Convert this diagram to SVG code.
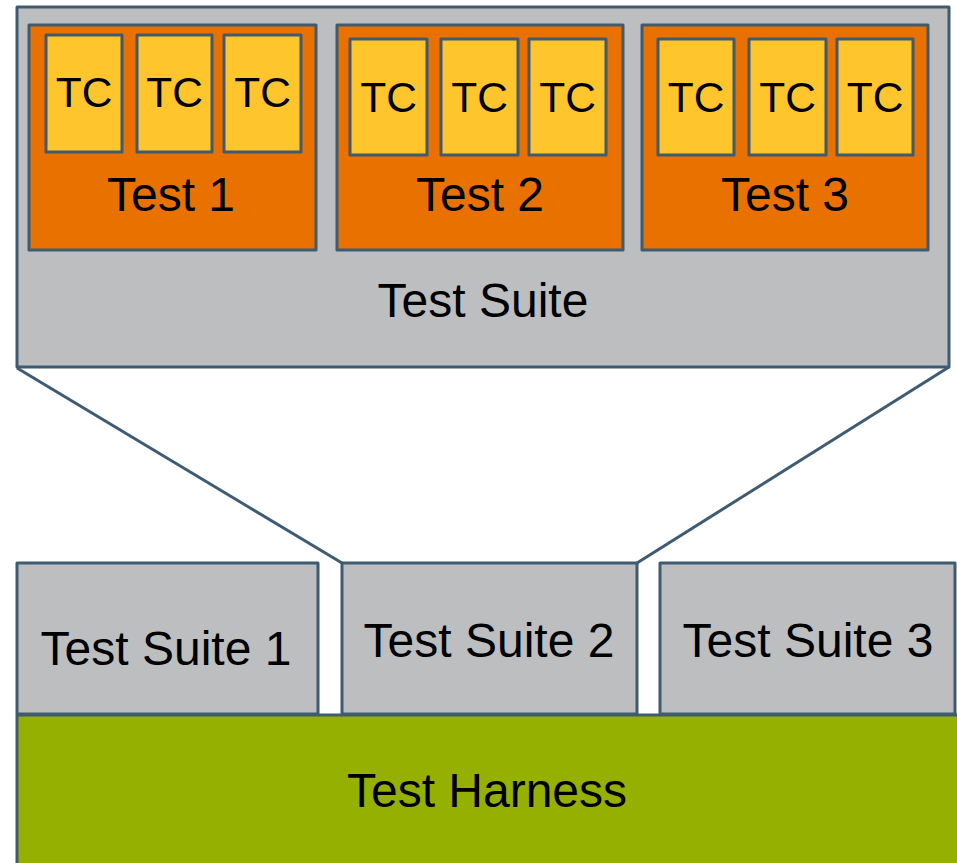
<svg xmlns="http://www.w3.org/2000/svg" width="957" height="863" viewBox="0 0 957 863">
<style>
.box{stroke:#3f5b72;stroke-width:3;stroke-linejoin:round}
.gray{fill:#bdbec0}
.orange{fill:#e87100}
.yellow{fill:#fec52c}
.green{fill:#96b000}
text{font-family:"Liberation Sans",Arial,sans-serif;fill:#000;text-anchor:middle}
.tc{font-size:42.5px}
.lbl{font-size:48px}
.conn{stroke:#3f5b72;stroke-width:3;fill:none}
</style>
<rect width="957" height="863" fill="#fff"/>
<g id="harness">
<rect class="box green" x="17" y="715" width="950" height="160"/>
<text class="lbl" x="487" y="807">Test Harness</text>
</g>
<g id="suite1">
<rect class="box gray" x="17" y="563" width="301" height="151"/>
<text class="lbl" x="166" y="665">Test Suite 1</text>
</g>
<g id="suite2">
<rect class="box gray" x="342" y="563" width="295" height="151"/>
<text class="lbl" x="489" y="657">Test Suite 2</text>
</g>
<g id="suite3">
<rect class="box gray" x="660" y="563" width="295" height="151"/>
<text class="lbl" x="808" y="657">Test Suite 3</text>
</g>
<g id="connectors">
<line class="conn" x1="17" y1="368" x2="342" y2="563"/>
<line class="conn" x1="949" y1="367" x2="637" y2="563"/>
</g>
<g id="testsuite">
<rect class="box gray" x="17" y="7" width="932" height="360"/>
<text class="lbl" x="483" y="317">Test Suite</text>
</g>
<g id="test1">
<rect class="box orange" x="29" y="25" width="287" height="225"/>
<text class="lbl" x="171" y="211">Test 1</text>
<g id="test1-tc1"><rect class="box yellow" x="46" y="35" width="76" height="117"/><text class="tc" x="84" y="107">TC</text></g>
<g id="test1-tc2"><rect class="box yellow" x="137" y="35" width="75" height="117"/><text class="tc" x="174.5" y="107">TC</text></g>
<g id="test1-tc3"><rect class="box yellow" x="224" y="35" width="77" height="117"/><text class="tc" x="262.5" y="107">TC</text></g>
</g>
<g id="test2">
<rect class="box orange" x="337" y="25" width="286" height="225"/>
<text class="lbl" x="480" y="211">Test 2</text>
<g id="test2-tc1"><rect class="box yellow" x="350" y="39" width="77" height="116"/><text class="tc" x="388.5" y="112">TC</text></g>
<g id="test2-tc2"><rect class="box yellow" x="441" y="39" width="77" height="116"/><text class="tc" x="479.5" y="112">TC</text></g>
<g id="test2-tc3"><rect class="box yellow" x="529" y="39" width="77" height="116"/><text class="tc" x="567.5" y="112">TC</text></g>
</g>
<g id="test3">
<rect class="box orange" x="642" y="25" width="286" height="225"/>
<text class="lbl" x="785" y="211">Test 3</text>
<g id="test3-tc1"><rect class="box yellow" x="658" y="39" width="76" height="116"/><text class="tc" x="696" y="112">TC</text></g>
<g id="test3-tc2"><rect class="box yellow" x="749" y="39" width="77" height="116"/><text class="tc" x="787.5" y="112">TC</text></g>
<g id="test3-tc3"><rect class="box yellow" x="837" y="39" width="76" height="116"/><text class="tc" x="875" y="112">TC</text></g>
</g>
</svg>
